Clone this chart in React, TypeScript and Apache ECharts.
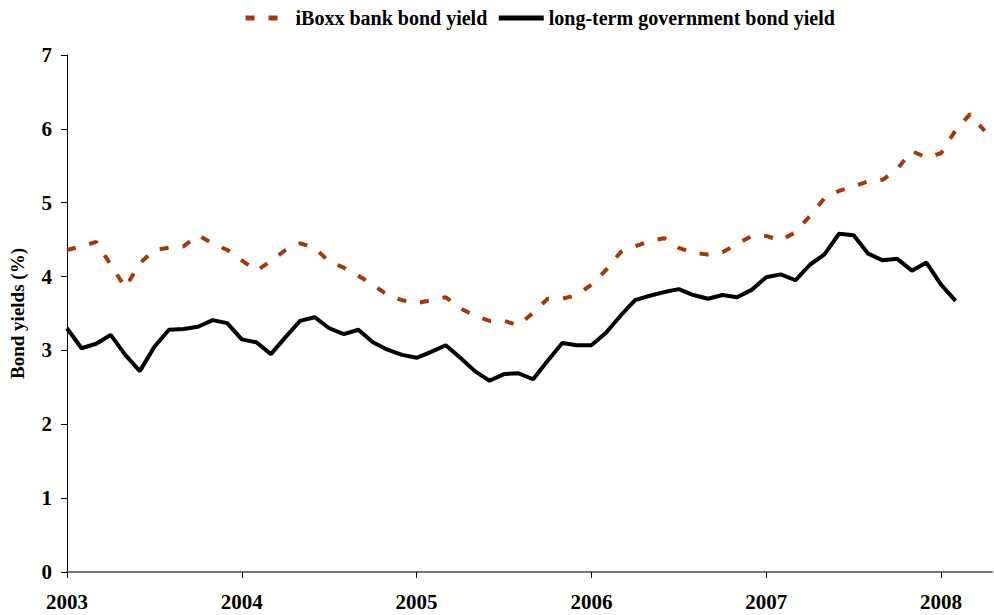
import React, { useEffect, useRef } from "react";
import * as echarts from "echarts";

const startYear = 2003;
const yearTicks = [0, 12, 24, 36, 48, 60];
const seriesNames = ["iBoxx bank bond yield", "long-term government bond yield"];

// monthly values, Jan 2003 onwards
const iboxxYield = [
  4.36, 4.41, 4.47, 4.16, 3.85, 4.18, 4.36, 4.39, 4.41, 4.56, 4.45, 4.36,
  4.22, 4.08, 4.21, 4.36, 4.45, 4.39, 4.2, 4.12, 4.01, 3.89, 3.75, 3.68,
  3.64, 3.68, 3.72, 3.57, 3.47, 3.4, 3.4, 3.34, 3.51, 3.7, 3.7, 3.75,
  3.89, 4.09, 4.33, 4.41, 4.48, 4.52, 4.39, 4.32, 4.3, 4.33, 4.44, 4.55,
  4.55, 4.49, 4.6, 4.82, 5.06, 5.16, 5.22, 5.29, 5.31, 5.46, 5.7, 5.61,
  5.67, 5.98, 6.2, 5.97,
];

const govYield = [
  3.3, 3.03, 3.09, 3.21, 2.94, 2.72, 3.05, 3.28, 3.29, 3.32, 3.41, 3.37,
  3.15, 3.11, 2.95, 3.18, 3.4, 3.45, 3.3, 3.22, 3.28, 3.11, 3.01, 2.94,
  2.9, 2.98, 3.07, 2.9, 2.72, 2.59, 2.68, 2.69, 2.61, 2.86, 3.1, 3.07,
  3.07, 3.24, 3.47, 3.68, 3.74, 3.79, 3.83, 3.75, 3.7, 3.75, 3.72, 3.82,
  3.99, 4.03, 3.95, 4.16, 4.3, 4.58, 4.56, 4.31, 4.22, 4.24, 4.08, 4.19,
  3.89, 3.67,
];

const FONT = "'Liberation Serif', 'Times New Roman', serif";
const RED = "#A3390B";

export default function App() {
  const ref = useRef<HTMLDivElement>(null);
  useEffect(() => {
    if (!ref.current) return;
    const chart = echarts.init(ref.current, undefined, { renderer: "svg" });
    chart.setOption({
      animation: false,
      backgroundColor: "#ffffff",
      grid: {
        left: 67,
        right: 2,
        top: 55,
        bottom: 43,
        containLabel: false,
        outerBoundsMode: "none",
      },
      legend: {
        left: 243,
        top: 8,
        padding: 0,
        itemWidth: 45,
        itemHeight: 22,
        itemGap: 9,
        data: seriesNames,
        itemStyle: { opacity: 0, color: "transparent", borderWidth: 0 },
        lineStyle: { width: 5 },
        textStyle: { fontFamily: FONT, fontWeight: "bold", fontSize: 20, color: "#000" },
      },
      xAxis: {
        type: "value",
        min: 0,
        max: 63.5,
        interval: 12,
        splitLine: { show: false },
        axisLine: { show: true, lineStyle: { color: "#777", width: 2 } },
        axisTick: {
          show: true,
          customValues: yearTicks,
          length: 6,
          lineStyle: { color: "#000", width: 1 },
        },
        axisLabel: {
          customValues: yearTicks,
          margin: 19,
          fontFamily: FONT,
          fontWeight: "bold",
          fontSize: 21,
          color: "#000",
          formatter: (v: number) => String(startYear + Math.round(v / 12)),
        },
      },
      yAxis: {
        type: "value",
        min: 0,
        max: 7,
        interval: 1,
        name: "Bond yields (%)",
        nameLocation: "middle",
        nameGap: 40,
        nameRotate: 90,
        nameTextStyle: { fontFamily: FONT, fontWeight: "bold", fontSize: 19, color: "#000" },
        splitLine: { show: false },
        axisLine: { show: true, lineStyle: { color: "#000", width: 1 } },
        axisTick: { show: true, length: 6, lineStyle: { color: "#000", width: 1 } },
        axisLabel: {
          margin: 15,
          fontFamily: FONT,
          fontWeight: "bold",
          fontSize: 21,
          color: "#000",
        },
      },
      series: [
        {
          name: seriesNames[0],
          type: "line",
          symbol: "none",
          data: iboxxYield.map((v, i) => [i, v]),
          lineStyle: { color: RED, width: 4, type: [9, 14], cap: "butt" },
          itemStyle: { color: RED },
          z: 2,
        },
        {
          name: seriesNames[1],
          type: "line",
          symbol: "none",
          data: govYield.map((v, i) => [i, v]),
          lineStyle: { color: "#000", width: 4 },
          itemStyle: { color: "#000" },
          z: 3,
        },
      ],
    });
    return () => chart.dispose();
  }, []);
  return (
    <div
      ref={ref}
      style={{ position: "fixed", left: 0, top: 0, width: 994, height: 615, background: "#fff" }}
    />
  );
}
